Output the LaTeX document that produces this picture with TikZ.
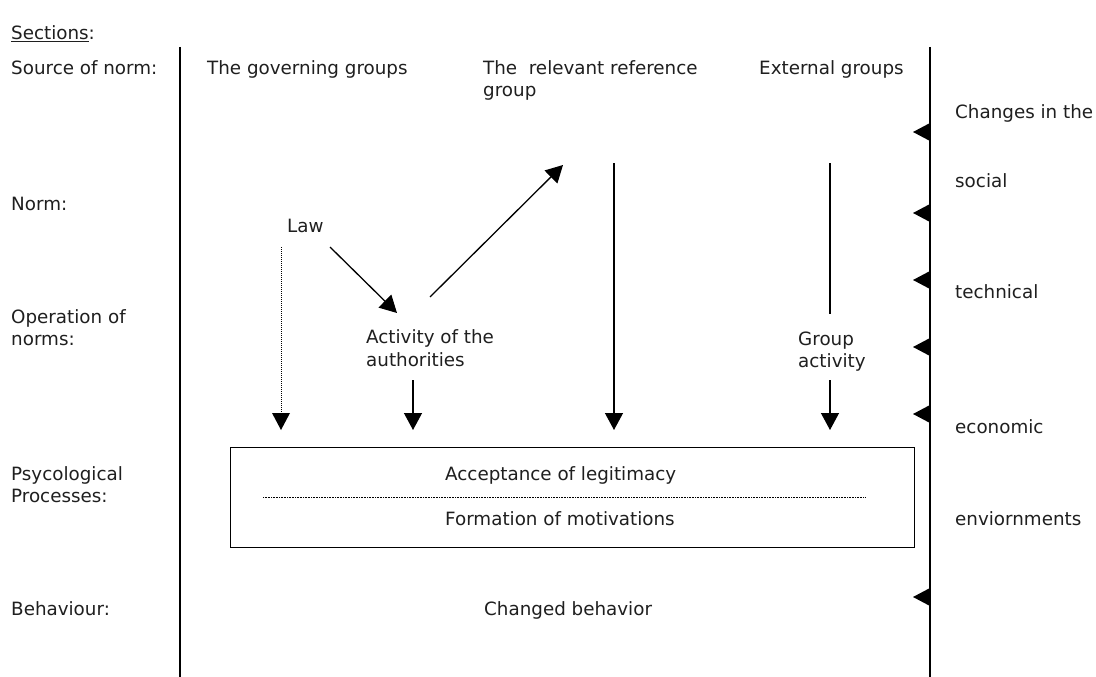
\documentclass[tikz,border=0pt]{standalone}
\usepackage{fontspec}
\setmainfont{DejaVu Sans}
\usetikzlibrary{arrows.meta}
\begin{document}
\begin{tikzpicture}[x=1pt,y=-1pt,
  lbl/.style={anchor=base west,inner sep=0pt,text=black!88,font=\fontsize{18.3}{22}\selectfont},
  arr/.style={line width=1.3pt,-{Triangle[length=17pt,width=18pt]}},
  plain/.style={line width=1.3pt},
  dotline/.style={line width=0.9pt,dash pattern=on 0.9pt off 1.1pt},
  fineline/.style={line width=0.6pt,dash pattern=on 0.7pt off 0.9pt},
  axis/.style={line width=1.5pt}]
\useasboundingbox (0,0) rectangle (1096,677);
\fill[white] (0,0) rectangle (1096,677);

% section labels
\node[lbl] (sec) at (11,40) {\underline{Sections}:};
\node[lbl] (src) at (11,75) {Source of norm:};
\node[lbl] (nrm) at (11,210) {Norm:};
\node[lbl] (opa) at (11,323) {Operation of};
\node[lbl] (opb) at (11,345) {norms:};
\node[lbl] (psa) at (11,480) {Psycological};
\node[lbl] (psb) at (11,502) {Processes:};
\node[lbl] (beh) at (11,615) {Behaviour:};

% vertical axes
\coordinate (lt) at (180,47);
\coordinate (lb) at (180,677);
\coordinate (rt) at (930,47);
\coordinate (rb) at (930,677);
\draw[axis] (lt) -- (lb);
\draw[axis] (rt) -- (rb);

% column headers
\node[lbl] (gov) at (207,75) {The governing groups};
\node[lbl] (rela) at (483,75) {The\ \ relevant reference};
\node[lbl] (relb) at (483,97) {group};
\node[lbl] (ext) at (759,75) {External groups};

% right side texts
\node[lbl] (ch1) at (955,118) {Changes in the};
\node[lbl] (ch2) at (955,187) {social};
\node[lbl] (ch3) at (955,298) {technical};
\node[lbl] (ch4) at (955,433) {economic};
\node[lbl] (ch5) at (955,525) {enviornments};

% right side triangles
\foreach \yy in {132,213,280,347,414,597}
  \fill (930,\yy-9) -- (913,\yy) -- (930,\yy+9) -- cycle;

% inner nodes
\node[lbl] (law) at (287,232) {Law};
\node[lbl] (acta) at (366,343) {Activity of the};
\node[lbl] (actb) at (366,366) {authorities};
\node[lbl] (grpa) at (798,345) {Group};
\node[lbl] (grpb) at (798,367) {activity};

% connector coordinates
\coordinate (lawdot) at (281,247);
\coordinate (lawdotend) at (281,430);
\coordinate (lawarr) at (330,247);
\coordinate (acttop) at (397,313);
\coordinate (actout) at (430,297);
\coordinate (reftip) at (563,165);
\coordinate (reftop) at (614,163);
\coordinate (refend) at (614,430);
\coordinate (exttop) at (830,163);
\coordinate (extend) at (830,314);
\coordinate (grpout) at (830,380);
\coordinate (grpend) at (830,430);
\coordinate (actdown) at (413,380);
\coordinate (actend) at (413,430);

\draw[dotline] (lawdot) -- (281,413);
\fill (272,413) -- (290,413) -- (lawdotend) -- cycle;
\draw[arr] (lawarr) -- (acttop);
\draw[arr] (actout) -- (reftip);
\draw[arr] (reftop) -- (refend);
\draw[plain] (exttop) -- (extend);
\draw[arr] (grpout) -- (grpend);
\draw[arr] (actdown) -- (actend);

% box
\node[draw,line width=1.3pt,minimum width=684pt,minimum height=100pt,inner sep=0pt,anchor=north west] (box) at (230,447) {};
\coordinate (dl) at (263,497);
\coordinate (dr) at (865,497);
\draw[fineline] (dl) -- (dr);
\node[lbl] (acc) at (445,480) {Acceptance of legitimacy};
\node[lbl] (form) at (445,525) {Formation of motivations};
\node[lbl] (chg) at (484,615) {Changed behavior};
\end{tikzpicture}
\end{document}
